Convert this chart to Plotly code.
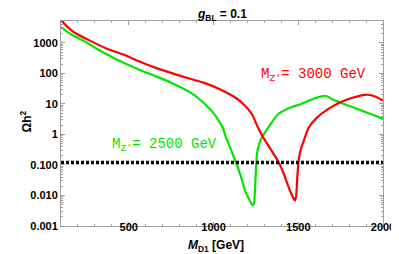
import plotly.graph_objects as go

# Data
green_x = [100, 160, 235, 300, 369, 450, 558, 650, 750, 865, 941, 1000, 1055, 1073, 1100, 1130,
           1160, 1187, 1210, 1225, 1233, 1240, 1246, 1256, 1270, 1285, 1322, 1380, 1450, 1513,
           1580, 1645, 1670, 1703, 1780, 1857, 1930, 2000]
green_y = [3300, 1900, 1170, 700, 426, 250, 135, 85, 50, 23.5, 11, 5, 1.66, 0.8, 0.35, 0.13,
           0.045, 0.014, 0.0075, 0.0052, 0.0048, 0.006, 0.023, 0.22, 0.5, 0.79, 1.66, 4.6, 7.5, 9.8,
           14, 18, 18, 14, 9.5, 6.6, 4.6, 3.3]

red_x = [100, 140, 178, 273, 370, 464, 560, 655, 800, 941, 1040, 1130, 1180, 1227, 1260, 1294,
         1340, 1380, 1410, 1437, 1460, 1475, 1481, 1488, 1494, 1504, 1520, 1532, 1561, 1609,
         1680, 1742, 1820, 1895, 1950, 2000]
red_y = [5600, 3300, 2200, 1170, 650, 425, 250, 155, 85, 50, 30, 16, 9.5, 4.6, 1.8, 0.79,
         0.31, 0.135, 0.06, 0.023, 0.011, 0.0075, 0.0069, 0.01, 0.038, 0.17, 0.4, 0.61, 1.66, 3.5,
         7, 11, 16, 20, 18, 13]

relic_x = [100, 2000]
relic_y = [0.12, 0.12]

y_tickvals = [0.001, 0.01, 0.1, 1, 10, 100, 1000]
y_ticktext = ["0.001", "0.010", "0.100", "1", "10", "100", "1000"]
x_tickvals = [500, 1000, 1500, 2000]

FONT = "Liberation Sans"
MONO = "Liberation Mono"

fig = go.Figure()
fig.add_trace(go.Scatter(x=green_x, y=green_y, mode="lines",
                         line=dict(color="#00e600", width=2.2, shape="spline", smoothing=0.5)))
fig.add_trace(go.Scatter(x=red_x, y=red_y, mode="lines",
                         line=dict(color="#ff0000", width=2.2, shape="spline", smoothing=0.5)))
fig.add_trace(go.Scatter(x=relic_x, y=relic_y, mode="lines",
                         line=dict(color="black", width=3.5, dash="3px,2px")))

minor_y = [m * 10 ** e for e in range(-3, 4) for m in range(2, 10)]

fig.update_layout(
    width=399, height=254,
    margin=dict(l=53, r=14, t=13, b=36),
    plot_bgcolor="white", paper_bgcolor="white",
    showlegend=False,
    font=dict(family=FONT, size=11, color="black"),
    xaxis=dict(range=[100, 2000], showgrid=False, zeroline=False,
               showline=True, linecolor="#a0a0a0", linewidth=1, mirror="ticks",
               ticks="inside", ticklen=4, tickcolor="#a0a0a0", ticklabelstandoff=-9,
               tickvals=x_tickvals, ticktext=[str(v) for v in x_tickvals],
               tickfont=dict(family=FONT, size=11, color="black", weight="bold"),
               minor=dict(ticks="inside", ticklen=2, tickcolor="#a0a0a0", dtick=100, showgrid=False)),
    yaxis=dict(type="log", range=[-3, 3.72], showgrid=False, zeroline=False,
               showline=True, linecolor="#a0a0a0", linewidth=1, mirror="ticks",
               ticks="inside", ticklen=4, tickcolor="#a0a0a0",
               tickvals=y_tickvals, ticktext=y_ticktext,
               tickfont=dict(family=FONT, size=11, color="black", weight="bold"),
               minor=dict(ticks="inside", ticklen=2, tickcolor="#a0a0a0", tickvals=minor_y, showgrid=False)),
)

fig.add_annotation(text="<i>g</i><sub>BL</sub> = 0.1", xref="paper", yref="paper",
                   x=0.5, y=1.0, yshift=6, showarrow=False, yanchor="middle",
                   font=dict(family=FONT, size=12, color="black", weight="bold"))
fig.add_annotation(text="<i>M</i><sub>D1</sub> [GeV]", xref="paper", yref="paper",
                   x=0.48, y=0, yshift=-20, showarrow=False, yanchor="middle",
                   font=dict(family=FONT, size=12, color="black", weight="bold"))
fig.add_annotation(text="Ωh<sup>2</sup>", xref="paper", yref="paper",
                   x=0, xshift=-45, y=0.51, showarrow=False, textangle=-90,
                   font=dict(family=FONT, size=12, color="black", weight="bold"))
fig.add_annotation(text="M<sub>Z'</sub>= 3000 GeV", x=1590, y=1.95, yref="y", xref="x",
                   showarrow=False, font=dict(family=MONO, size=14, color="#ff0000"))
fig.add_annotation(text="M<sub>Z'</sub>= 2500 GeV", x=712, y=-0.33, yref="y", xref="x",
                   showarrow=False, font=dict(family=MONO, size=14, color="#00e600"))

fig.write_html("out.html")
